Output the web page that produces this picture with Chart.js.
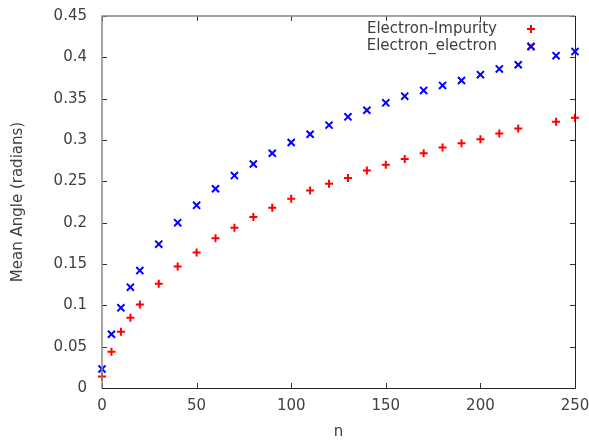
<!DOCTYPE html>
<html>
<head>
<meta charset="utf-8">
<script src="https://cdn.jsdelivr.net/npm/chart.js@4"></script>
<style>
  html, body { margin: 0; padding: 0; background: #fff; }
  #wrap { width: 589px; height: 441px; position: relative; }
</style>
</head>
<body>
<div id="wrap"><canvas id="chart"></canvas></div>
<script>
const nValues = [0, 5, 10, 15, 20, 30, 40, 50, 60, 70, 80, 90, 100, 110, 120, 130, 140, 150, 160, 170, 180, 190, 200, 210, 220, 240, 250];
const impurityAngle = [0.014, 0.044, 0.068, 0.085, 0.101, 0.126, 0.147, 0.164, 0.181, 0.194, 0.207, 0.218, 0.229, 0.239, 0.247, 0.254, 0.263, 0.270, 0.277, 0.284, 0.291, 0.296, 0.301, 0.308, 0.314, 0.322, 0.327];
const electronAngle = [0.023, 0.065, 0.097, 0.122, 0.142, 0.174, 0.200, 0.221, 0.241, 0.257, 0.271, 0.284, 0.297, 0.307, 0.318, 0.328, 0.336, 0.345, 0.353, 0.360, 0.366, 0.372, 0.379, 0.386, 0.391, 0.402, 0.407];
const xTicks = [0, 50, 100, 150, 200, 250];
const yTicks = [0, 0.05, 0.1, 0.15, 0.2, 0.25, 0.3, 0.35, 0.4, 0.45];

const FONT = "'DejaVu Sans', sans-serif";
const TEXT = '#404040';

const toPoints = ys => nValues.map((n, i) => ({ x: n, y: ys[i] }));

// gnuplot style frame: inward ticks on all four sides
const frame = {
  id: 'frame',
  afterDatasetsDraw(chart) {
    const { ctx, chartArea: a, scales: { x, y } } = chart;
    ctx.save();
    ctx.lineCap = 'butt';
    ctx.strokeStyle = '#333';
    ctx.lineWidth = 1;
    ctx.beginPath();
    xTicks.forEach(v => {
      const px = Math.round(x.getPixelForValue(v)) + 0.5;
      ctx.moveTo(px, a.bottom); ctx.lineTo(px, a.bottom - 5);
      ctx.moveTo(px, a.top); ctx.lineTo(px, a.top + 5);
    });
    yTicks.forEach(v => {
      const py = Math.round(y.getPixelForValue(v)) + 0.5;
      ctx.moveTo(a.left, py); ctx.lineTo(a.left + 5, py);
      ctx.moveTo(a.right, py); ctx.lineTo(a.right - 5, py);
    });
    ctx.stroke();

    ctx.strokeStyle = '#888';
    ctx.lineWidth = 1.5;
    ctx.beginPath();
    ctx.moveTo(a.left, a.bottom); ctx.lineTo(a.left, a.top); ctx.lineTo(a.right, a.top);
    ctx.stroke();
    ctx.strokeStyle = '#222';
    ctx.lineWidth = 1;
    ctx.beginPath();
    ctx.moveTo(a.left, a.bottom + 0.5); ctx.lineTo(a.right + 0.5, a.bottom + 0.5); ctx.lineTo(a.right + 0.5, a.top);
    ctx.stroke();
    ctx.restore();
  }
};

// key in the top right corner: label first, marker after it
const key = {
  id: 'key',
  afterDraw(chart) {
    const { ctx } = chart;
    ctx.save();
    ctx.font = '15px ' + FONT;
    ctx.fillStyle = TEXT;
    ctx.textAlign = 'right';
    ctx.textBaseline = 'middle';
    chart.data.datasets.forEach((ds, i) => {
      const yy = 29 + i * 17.5;
      ctx.fillText(ds.label, 497, yy);
      Chart.helpers.drawPoint(ctx, {
        pointStyle: ds.pointStyle,
        radius: ds.pointRadius,
        borderWidth: ds.borderWidth
      }, 531, yy);
      ctx.strokeStyle = ds.borderColor;
      ctx.lineWidth = ds.borderWidth;
      ctx.stroke();
    });
    ctx.restore();
  }
};

new Chart(document.getElementById('chart'), {
  type: 'scatter',
  data: {
    datasets: [
      {
        label: 'Electron-Impurity',
        data: toPoints(impurityAngle),
        pointStyle: 'cross',
        pointRadius: 4,
        borderWidth: 2,
        borderColor: '#ff0000',
        backgroundColor: '#ff0000'
      },
      {
        label: 'Electron_electron',
        data: toPoints(electronAngle),
        pointStyle: 'crossRot',
        pointRadius: 5,
        borderWidth: 2,
        borderColor: '#0000ff',
        backgroundColor: '#0000ff'
      }
    ]
  },
  options: {
    responsive: true,
    maintainAspectRatio: false,
    animation: false,
    clip: false,
    layout: { padding: { top: 16, right: 14, left: 0, bottom: 0 } },
    plugins: { legend: { display: false }, tooltip: { enabled: false } },
    scales: {
      x: {
        type: 'linear',
        min: 0,
        max: 250,
        afterFit(s) { s.height = 53; s.paddingLeft = 0; s.paddingRight = 0; },
        afterBuildTicks(s) { s.ticks = xTicks.map(v => ({ value: v })); },
        border: { display: false },
        grid: { display: false, drawTicks: false },
        ticks: { padding: 9, color: TEXT, font: { family: FONT, size: 15 } },
        title: { display: true, text: 'n', color: TEXT, padding: 0, font: { family: FONT, size: 15 } }
      },
      y: {
        type: 'linear',
        min: 0,
        max: 0.45,
        afterFit(s) { s.width = 102; s.paddingTop = 0; s.paddingBottom = 0; },
        afterBuildTicks(s) { s.ticks = yTicks.map(v => ({ value: v })); },
        border: { display: false },
        grid: { display: false, drawTicks: false },
        ticks: {
          padding: 15,
          color: TEXT,
          font: { family: FONT, size: 15 },
          callback: v => String(Math.round(v * 100) / 100)
        },
        title: { display: true, text: 'Mean Angle (radians)', color: TEXT, padding: { top: 9, bottom: 0 }, font: { family: FONT, size: 15 } }
      }
    }
  },
  plugins: [frame, key]
});
</script>
</body>
</html>
